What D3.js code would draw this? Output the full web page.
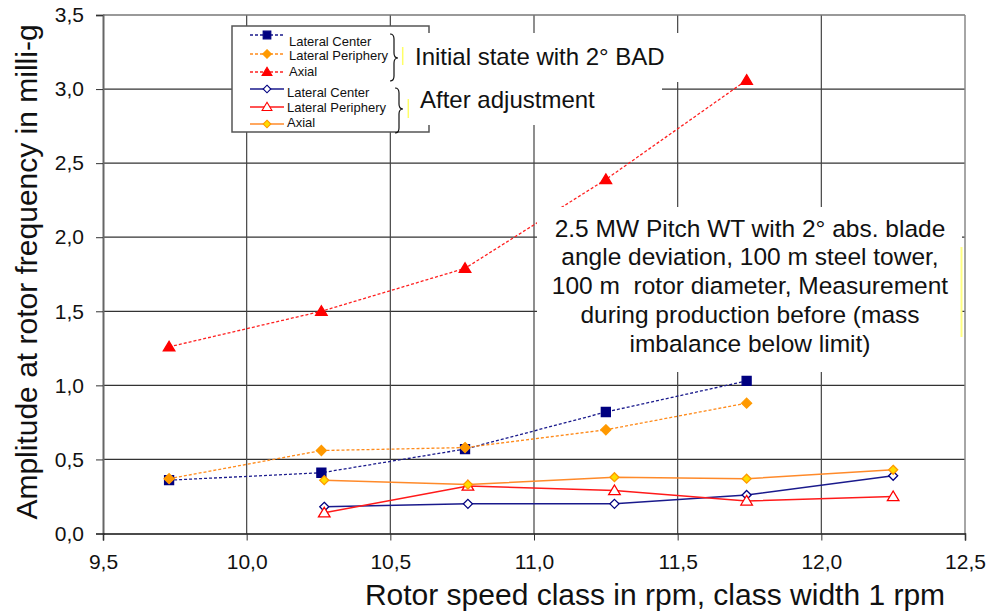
<!DOCTYPE html>
<html>
<head>
<meta charset="utf-8">
<script src="https://cdn.jsdelivr.net/npm/d3@7"></script>
<style>
  body { margin: 0; background: #fff; }
  svg text { font-family: 'Liberation Sans', Arial, sans-serif; fill: #111; }
</style>
</head>
<body>
<script>
// values
const xInitial = [9.73, 10.26, 10.76, 11.25, 11.74];
const xAfter = [10.27, 10.77, 11.28, 11.74, 12.25];

const initLatCenter = [0.36, 0.41, 0.57, 0.82, 1.03];
const initLatPeriph = [0.37, 0.56, 0.58, 0.70, 0.88];
const initAxial = [1.26, 1.50, 1.79, 2.39, 3.06];

const afterLatCenter = [0.18, 0.20, 0.20, 0.26, 0.39];
const afterLatPeriph = [0.14, 0.32, 0.29, 0.22, 0.25];
const afterAxial = [0.36, 0.33, 0.38, 0.37, 0.43];

const xTicks = [9.5, 10.0, 10.5, 11.0, 11.5, 12.0, 12.5];
const yTicks = [0, 0.5, 1.0, 1.5, 2.0, 2.5, 3.0, 3.5];

const legendNames = ['Lateral Center', 'Lateral Periphery', 'Axial',
                     'Lateral Center', 'Lateral Periphery', 'Axial'];
const groupLabels = ['Initial state with 2° BAD', 'After adjustment'];
const noteLines = ['2.5 MW Pitch WT with 2° abs. blade',
                   'angle deviation, 100 m steel tower,',
                   '100 m  rotor diameter, Measurement',
                   'during production before (mass',
                   'imbalance below limit)'];

const w = 989;
const h = 614;
const svg = d3.select('body')
              .append('svg')
              .attr('width', w)
              .attr('height', h);

const xScale = d3.scaleLinear().domain([9.5, 12.5]).range([103, 965]);
const yScale = d3.scaleLinear().domain([0, 3.5]).range([533.5, 15]);
const fmt = d => d3.format('.1f')(d).replace('.', ',');

// gridlines
svg.append('g')
   .selectAll('line')
   .data(yTicks.slice(1, -1))
   .enter()
   .append('line')
   .attr('x1', xScale(9.5)).attr('x2', xScale(12.5))
   .attr('y1', d => yScale(d)).attr('y2', d => yScale(d))
   .attr('stroke', '#333').attr('stroke-width', 1.2);

svg.append('g')
   .selectAll('line')
   .data(xTicks.slice(1, -1))
   .enter()
   .append('line')
   .attr('y1', yScale(0)).attr('y2', yScale(3.5))
   .attr('x1', d => xScale(d)).attr('x2', d => xScale(d))
   .attr('stroke', '#444').attr('stroke-width', 1.2);

// plot frame top / right
svg.append('line')
   .attr('x1', xScale(9.5)).attr('x2', xScale(12.5))
   .attr('y1', yScale(3.5)).attr('y2', yScale(3.5))
   .attr('stroke', '#777').attr('stroke-width', 1.5);
svg.append('line')
   .attr('x1', xScale(12.5)).attr('x2', xScale(12.5))
   .attr('y1', yScale(3.5)).attr('y2', yScale(0))
   .attr('stroke', '#888').attr('stroke-width', 1.5);

// axes
const yAxis = d3.axisLeft(yScale).tickValues(yTicks).tickFormat(fmt).tickSize(7).tickPadding(12);
const xAxis = d3.axisBottom(xScale).tickValues(xTicks).tickFormat(fmt).tickSize(7).tickPadding(14);

const gy = svg.append('g')
              .attr('id', 'y-axis')
              .attr('transform', 'translate(' + xScale(9.5) + ',0)')
              .call(yAxis);
const gx = svg.append('g')
              .attr('id', 'x-axis')
              .attr('transform', 'translate(0,' + yScale(0) + ')')
              .call(xAxis);

gy.select('.domain').attr('stroke', '#666').attr('stroke-width', 2);
gx.select('.domain').attr('stroke', '#111').attr('stroke-width', 1.5);
svg.selectAll('.tick line').attr('stroke', '#333');
svg.selectAll('.tick text')
   .style('font-size', '21px')
   .style('font-family', "'Liberation Sans', Arial, sans-serif")
   .attr('fill', '#111');

// axis titles
svg.append('text')
   .attr('transform', 'rotate(-90)')
   .attr('x', -272)
   .attr('y', 37)
   .attr('text-anchor', 'middle')
   .style('font-size', '30px')
   .text('Amplitude at rotor frequency in milli-g');

svg.append('text')
   .attr('x', 655)
   .attr('y', 605)
   .attr('text-anchor', 'middle')
   .style('font-size', '30px')
   .text('Rotor speed class in rpm, class width 1 rpm');

// markers
const diamond = s => 'M0,' + (-s) + 'L' + s + ',0L0,' + s + 'L' + (-s) + ',0Z';
const square = s => 'M' + (-s) + ',' + (-s) + 'H' + s + 'V' + s + 'H' + (-s) + 'Z';
const triangle = s => 'M0,' + (-s) + 'L' + (s * 1.05) + ',' + (s * 0.75) + 'L' + (-s * 1.05) + ',' + (s * 0.75) + 'Z';

const series = [
  { xs: xInitial, ys: initLatCenter, color: '#1a1a8c', dash: '3,2', marker: square(4.5), fill: '#000080', mstroke: '#000080' },
  { xs: xInitial, ys: initLatPeriph, color: '#ff8a1a', dash: '3,2', marker: diamond(5), fill: '#ff9900', mstroke: '#ff9900' },
  { xs: xInitial, ys: initAxial, color: '#ff2020', dash: '3,2', marker: triangle(5.5), fill: '#ff0000', mstroke: '#ff0000' },
  { xs: xAfter, ys: afterLatCenter, color: '#1a1a8c', dash: null, marker: diamond(4.5), fill: '#fff', mstroke: '#000080' },
  { xs: xAfter, ys: afterLatPeriph, color: '#ff1a1a', dash: null, marker: triangle(5.5), fill: '#fff', mstroke: '#ff0000' },
  { xs: xAfter, ys: afterAxial, color: '#ff8a2a', dash: null, marker: diamond(4.5), fill: '#ffdd00', mstroke: '#ff9900' }
];

const line = d3.line().x(d => xScale(d[0])).y(d => yScale(d[1]));

series.forEach(s => {
  const pts = s.xs.map((x, i) => [x, s.ys[i]]);
  svg.append('path')
     .datum(pts)
     .attr('d', line)
     .attr('fill', 'none')
     .attr('stroke', s.color)
     .attr('stroke-width', s.dash ? 1.3 : 1.5)
     .attr('stroke-dasharray', s.dash);
});

series.forEach(s => {
  const pts = s.xs.map((x, i) => [x, s.ys[i]]);
  svg.append('g')
     .selectAll('path')
     .data(pts)
     .enter()
     .append('path')
     .attr('d', s.marker)
     .attr('transform', d => 'translate(' + xScale(d[0]) + ',' + yScale(d[1]) + ')')
     .attr('fill', s.fill)
     .attr('stroke', s.mstroke)
     .attr('stroke-width', 1.3);
});

// legend box
svg.append('rect')
   .attr('x', 232).attr('y', 26).attr('width', 197).attr('height', 106)
   .attr('fill', '#fff').attr('stroke', '#555').attr('stroke-width', 1.5);

// white backing of the group labels
svg.append('rect').attr('x', 389).attr('y', 33).attr('width', 291).attr('height', 49).attr('fill', '#fff');
svg.append('rect').attr('x', 389).attr('y', 82).attr('width', 273).attr('height', 43).attr('fill', '#fff');

const legendMarkY = [35, 54, 72, 89, 107, 124];
const legendTextY = [45.5, 60, 75.5, 97, 112, 127];

series.forEach((s, i) => {
  const g = svg.append('g');
  g.append('line')
   .attr('x1', 250).attr('x2', 284)
   .attr('y1', legendMarkY[i]).attr('y2', legendMarkY[i])
   .attr('stroke', s.color)
   .attr('stroke-width', s.dash ? 1.3 : 1.5)
   .attr('stroke-dasharray', s.dash);
  g.append('path')
   .attr('d', s.marker)
   .attr('transform', 'translate(267,' + legendMarkY[i] + ') scale(0.85)')
   .attr('fill', s.fill)
   .attr('stroke', s.mstroke)
   .attr('stroke-width', 1.3);
  g.append('text')
   .attr('x', i < 3 ? 289 : 287)
   .attr('y', legendTextY[i])
   .style('font-size', '13px')
   .text(legendNames[i]);
});

// braces and group labels
svg.append('path')
   .attr('d', 'M390,34 Q394,34 394,39 L394,53 Q394,58 398,58 Q394,58 394,63 L394,76 Q394,81 390,81')
   .attr('fill', 'none').attr('stroke', '#111').attr('stroke-width', 1.2);
svg.append('path')
   .attr('d', 'M395,88 Q399,88 399,93 L399,104 Q399,109 403,109 Q399,109 399,114 L399,128 Q399,133 395,133')
   .attr('fill', 'none').attr('stroke', '#111').attr('stroke-width', 1.2);

svg.append('line').attr('x1', 402.7).attr('x2', 402.7).attr('y1', 47).attr('y2', 65)
   .attr('stroke', '#ffff66').attr('stroke-width', 1.5);
svg.append('line').attr('x1', 408.3).attr('x2', 408.3).attr('y1', 99).attr('y2', 118)
   .attr('stroke', '#ffff66').attr('stroke-width', 1.5);

svg.append('text').attr('x', 415).attr('y', 64.5).style('font-size', '24px').text(groupLabels[0]);
svg.append('text').attr('x', 420).attr('y', 108).style('font-size', '24px').text(groupLabels[1]);

// description note
svg.append('rect').attr('x', 537).attr('y', 207).attr('width', 425).attr('height', 165).attr('fill', '#fff');
svg.append('line').attr('x1', 961.5).attr('x2', 961.5).attr('y1', 247).attr('y2', 337)
   .attr('stroke', '#ffff80').attr('stroke-width', 2);

svg.append('g')
   .selectAll('text')
   .data(noteLines)
   .enter()
   .append('text')
   .attr('x', 750)
   .attr('y', (d, i) => 236.7 + i * 28.7)
   .attr('text-anchor', 'middle')
   .attr('xml:space', 'preserve')
   .style('white-space', 'pre')
   .style('font-size', '24.5px')
   .text(d => d);
</script>
</body>
</html>
